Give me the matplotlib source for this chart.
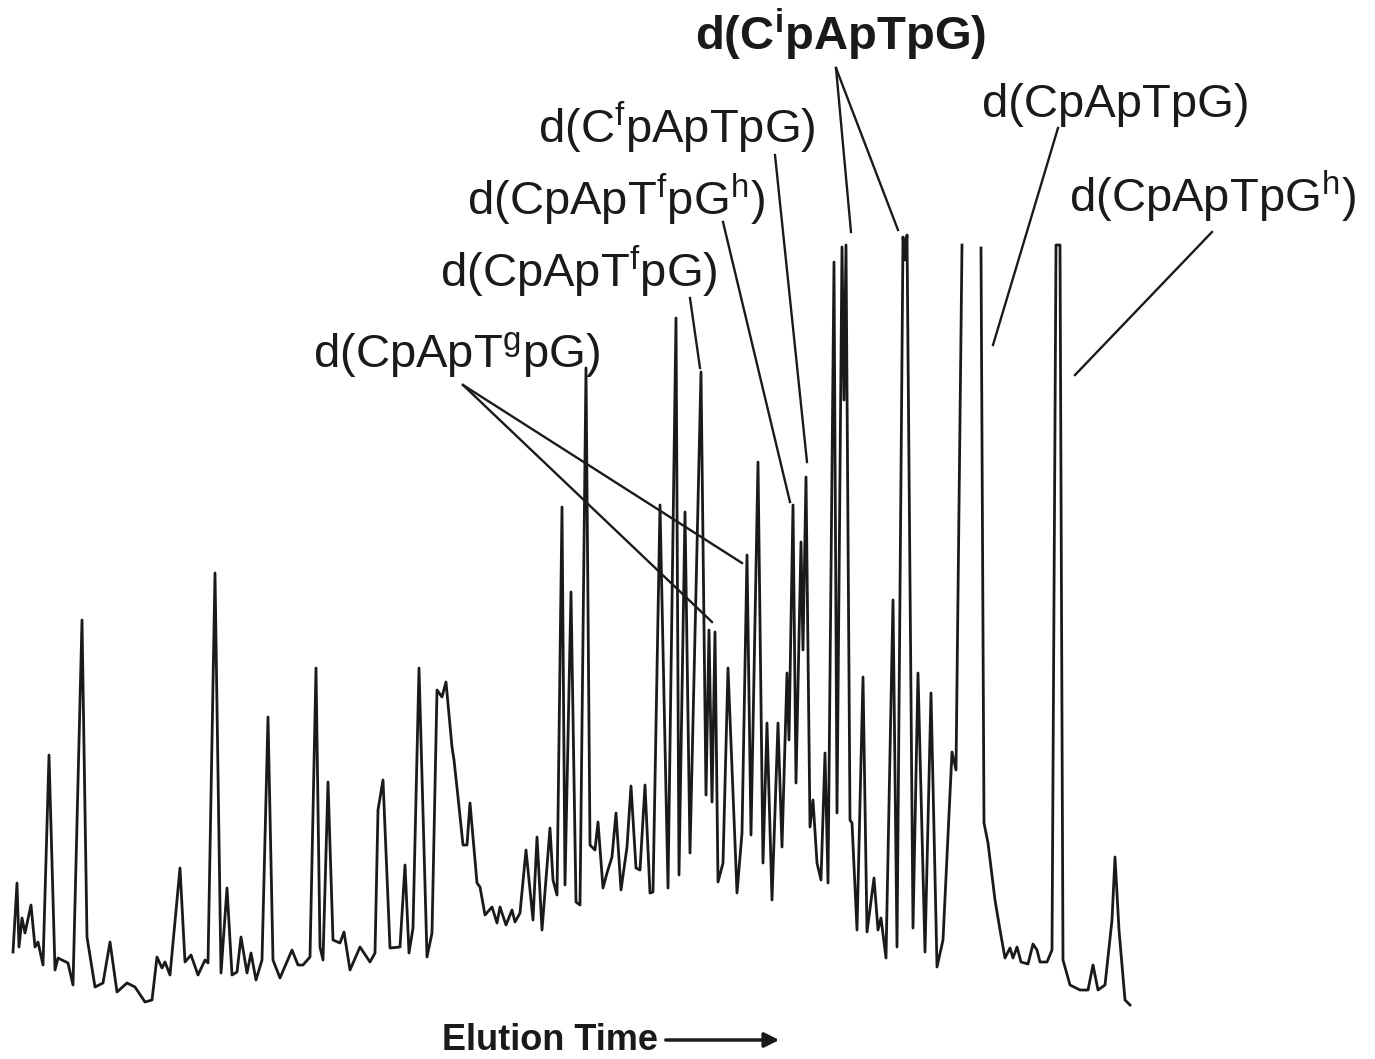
import numpy as np
import matplotlib
matplotlib.use("Agg")
import matplotlib.pyplot as plt

plt.rcParams['font.family'] = ['Liberation Sans', 'DejaVu Sans']
plt.rcParams['mathtext.fontset'] = 'custom'
plt.rcParams['mathtext.rm'] = 'Liberation Sans'
plt.rcParams['mathtext.bf'] = 'Liberation Sans:bold'

# chromatogram trace (elution time, detector signal), arbitrary units
# None = pen off scale (gap in the trace)
elution_time = [
    13, 17, 19, 22, 25, 31, 35, 38, 43, 49, 55, 58, 68, 73, 82, 87, 95, 103, 110, 117,
    127, 135, 145, 152, 157, 162, 165, 170, 180, 185, 191, 198, 205, 208, 215, 221, 227, 232, 237, 241,
    247, 251, 256, 262, 268, 273, 280, 292, 298, 303, 310, 316, 320, 323, 328, 333, 340, 344, 350, 360,
    370, 375, 378, 383, 390, 400, 405, 409, 413, 419, 427, 432, 437, 442, 446, 452, 454, 458, 463, 467,
    470, 477, 480, 485, 492, 497, 500, 506, 512, 515, 520, 526, 533, 537, 542, 550, 553, 557, 562, 565,
    571, 576, 580, 586, 590, 595, 598, 603, 607, 612, 616, 621, 627, 631, 636, 640, 645, 650, 653, 660,
    668, 676, 679, 685, 690, 701, 706, 709, 712, 715, 718, 723, 728, 737, 742, 747, 751, 758, 763, 767,
    772, 778, 782, 787, 789, 793, 796, 801, 803, 806, 810, 813, 817, 821, 825, 828, 834, 837, 842, 844,
    846, 850, 852, 857, 863, 867, 874, 878, 881, 886, 893, 897, 903, 905, 907, 913, 918, 925, 931, 937,
    943, 952, 956, 962, 972, 981, 984, 988, 995, 1000, 1005, 1010, 1013, 1017, 1021, 1028, 1033, 1037, 1040, 1047,
    1052, 1056, 1060, 1063, 1070, 1080, 1088, 1093, 1098, 1105, 1112, 1115, 1119, 1125, 1130,
]
signal = [
    58, 127, 63, 92, 77, 105, 63, 68, 45, 255, 40, 52, 47, 25, 390, 73, 23, 27, 68, 18,
    27, 23, 8, 10, 53, 42, 48, 35, 142, 48, 55, 35, 50, 47, 437, 37, 122, 35, 38, 73,
    37, 57, 30, 50, 293, 50, 32, 60, 45, 45, 53, 342, 63, 50, 228, 70, 67, 78, 40, 63,
    48, 57, 200, 230, 62, 63, 145, 57, 82, 342, 53, 77, 320, 313, 328, 263, 250, 213, 165, 165,
    207, 127, 123, 95, 103, 87, 103, 85, 100, 88, 97, 160, 90, 173, 80, 182, 130, 115, 503, 125,
    418, 108, 105, 642, 165, 160, 188, 122, 137, 153, 197, 120, 163, 224, 142, 140, 225, 117, 118, 505,
    122, 692, 135, 498, 157, 638, 215, 380, 208, 378, 128, 147, 342, 117, 177, 455, 175, 548, 147, 287,
    110, 287, 163, 337, 270, 505, 227, 468, 360, 533, 183, 210, 147, 130, 257, 127, 748, 197, 763, 610,
    765, 190, 187, 80, 333, 78, 132, 80, 92, 52, 410, 63, 773, 750, 775, 82, 337, 58, 317, 43,
    70, 258, 240, 765, None, 762, 187, 167, 110, 80, 52, 62, 52, 63, 48, 46, 66, 60, 48, 48,
    60, 765, 765, 50, 25, 20, 20, 45, 20, 25, 90, 153, 80, 10, 5,
]

# peak labels: text, anchor of text, end points of the pointer lines
labels = [
    r'd(C$^{\mathbf{i}}$pApTpG)',
    r'd(C$^{\mathrm{f}}$pApTpG)',
    r'd(CpApT$^{\mathrm{f}}$pG$^{\mathrm{h}}$)',
    r'd(CpApT$^{\mathrm{f}}$pG)',
    r'd(CpApT$^{\mathrm{g}}$pG)',
    r'd(CpApTpG)',
    r'd(CpApTpG$^{\mathrm{h}}$)',
]
label_xy = [(841, 960), (677, 867), (616, 795), (579, 723), (456, 643), (1116, 893), (1212, 798)]
label_bold = [True, False, False, False, False, False, False]
pointer_start = [(836, 942), (836, 942), (775, 855), (723, 788), (690, 712), (463, 625), (463, 625), (1058, 882), (1212, 778)]
pointer_end = [(851, 778), (898, 780), (807, 548), (790, 508), (700, 642), (742, 447), (712, 388), (993, 665), (1075, 635)]

t = np.array(elution_time, dtype=float)
s = np.array([np.nan if v is None else v for v in signal], dtype=float)

fig = plt.figure(figsize=(13.75, 10.59), dpi=100)
ax = fig.add_axes([0, 0, 1, 1])
ax.set_xlim(0, 1375)
ax.set_ylim(-49, 1010)
ax.axis('off')

ax.plot(t, s, color='#1a1a1a', lw=2.0, solid_joinstyle='round')

for (x0, y0), (x1, y1) in zip(pointer_start, pointer_end):
    ax.plot([x0, x1], [y0, y1], color='#1a1a1a', lw=1.7)

for txt, (x, y), b in zip(labels, label_xy, label_bold):
    ax.text(x, y, txt, ha='center', va='baseline', fontsize=34,
            fontweight='bold' if b else 'normal', color='#1a1a1a')

ax.text(550, -40, 'Elution Time', ha='center', va='baseline', fontsize=26,
        fontweight='bold', color='#1a1a1a')
ax.annotate('', xy=(782, -30), xytext=(663, -30),
            arrowprops=dict(arrowstyle='-|>', lw=2.5, color='#1a1a1a', mutation_scale=22))

fig.savefig('out.png', dpi=100)
